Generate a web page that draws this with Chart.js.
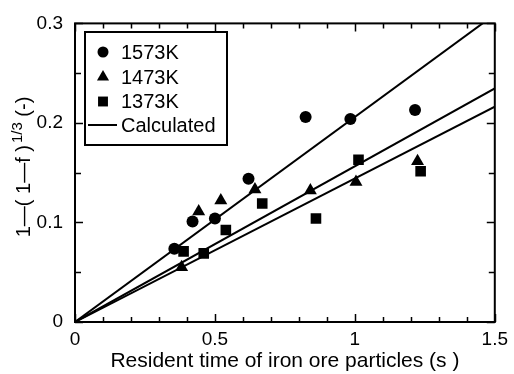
<!DOCTYPE html>
<html>
<head>
<meta charset="utf-8">
<script src="https://cdn.jsdelivr.net/npm/chart.js@4/dist/chart.umd.min.js"></script>
<style>
  html, body { margin: 0; padding: 0; background: #fff; }
  canvas { display: block; }
</style>
</head>
<body>
<canvas id="grafico" width="514" height="374"></canvas>
<script>
// ejes
const xTickVals = [0, 0.5, 1, 1.5];
const xTickLabels = ['0', '0.5', '1', '1.5'];
const yTickVals = [0, 0.1, 0.2, 0.3];
const yTickLabels = ['0', '0.1', '0.2', '0.3'];

const x1573 = [0.355, 0.42, 0.50, 0.62, 0.824, 0.984, 1.215];
const y1573 = [0.0735, 0.101, 0.104, 0.144, 0.206, 0.204, 0.213];
const x1473 = [0.381, 0.442, 0.521, 0.643, 0.841, 1.004, 1.224];
const y1473 = [0.055, 0.111, 0.122, 0.133, 0.132, 0.1406, 0.1615];
const x1373 = [0.388, 0.46, 0.539, 0.669, 0.861, 1.013, 1.235];
const y1373 = [0.071, 0.069, 0.0924, 0.119, 0.104, 0.163, 0.1515];

// rectas calculadas
const calcX = [0, 1.5];
const calc1573 = [0, 0.309];
const calc1473 = [0, 0.2346];
const calc1373 = [0, 0.2164];

const FONT = '"Liberation Sans", Arial, sans-serif';

function pares(xs, ys) {
  return xs.map((x, i) => ({ x: x, y: ys[i] }));
}

function serie(label, xs, ys, estilo, radio) {
  return {
    label, data: pares(xs, ys), showLine: false,
    pointStyle: estilo, pointRadius: radio, pointHoverRadius: radio,
    backgroundColor: '#000', borderColor: '#000', borderWidth: 0
  };
}

function recta(label, ys) {
  return {
    label, data: pares(calcX, ys), showLine: true,
    borderColor: '#000', borderWidth: 2, pointRadius: 0, fill: false
  };
}

const marcasYTitulo = {
  id: 'marcasYTitulo',
  afterDraw(chart) {
    const ctx = chart.ctx;
    const ca = chart.chartArea;
    const sx = chart.scales.x, sy = chart.scales.y;
    ctx.save();
    ctx.strokeStyle = '#000';
    ctx.lineWidth = 2;
    ctx.strokeRect(ca.left, ca.top, ca.right - ca.left, ca.bottom - ca.top);

    ctx.lineWidth = 1.5;
    ctx.beginPath();
    for (let i = 0; i <= 15; i++) {
      const px = Math.round(sx.getPixelForValue(i / 10)) + 0.5;
      const l = i % 5 === 0 ? 8 : 5;
      ctx.moveTo(px, ca.bottom); ctx.lineTo(px, ca.bottom - l);
      ctx.moveTo(px, ca.top); ctx.lineTo(px, ca.top + l);
    }
    for (let i = 0; i <= 6; i++) {
      const py = Math.round(sy.getPixelForValue(i * 0.05)) + 0.5;
      const l = i % 2 === 0 ? 8 : 6;
      ctx.moveTo(ca.left, py); ctx.lineTo(ca.left + l, py);
      ctx.moveTo(ca.right, py); ctx.lineTo(ca.right - l, py);
    }
    ctx.stroke();

    // leyenda
    const bx = 85, by = 32, bw = 142, bh = 113;
    ctx.fillStyle = '#fff';
    ctx.fillRect(bx, by, bw, bh);
    ctx.lineWidth = 2;
    ctx.strokeRect(bx, by, bw, bh);
    ctx.fillStyle = '#000';
    ctx.font = '20px ' + FONT;
    ctx.textBaseline = 'middle';
    ctx.textAlign = 'left';
    const filas = [52, 77, 101.5, 125];
    for (let k = 0; k < 3; k++) {
      const ds = chart.data.datasets[k];
      Chart.helpers.drawPoint(ctx, {
        pointStyle: ds.pointStyle, radius: ds.pointRadius - 0.5, borderWidth: 0
      }, 103, filas[k]);
      ctx.fillText(ds.label, 121, filas[k] + 1);
    }
    ctx.beginPath();
    ctx.lineWidth = 2;
    ctx.moveTo(88, filas[3]); ctx.lineTo(117, filas[3]);
    ctx.stroke();
    ctx.fillText(chart.data.datasets[3].label, 121, filas[3] + 1);

    // titulo eje y
    ctx.translate(23, 167);
    ctx.rotate(-Math.PI / 2);
    const big = '20px ' + FONT, small = '15px ' + FONT;
    const p1 = '1\u2014( 1\u2014f )', p2 = '1/3', p3 = ' (-)';
    ctx.font = big; const w1 = ctx.measureText(p1).width, w3 = ctx.measureText(p3).width;
    ctx.font = small; const w2 = ctx.measureText(p2).width;
    let x0 = -(w1 + w2 + w3 + 2) / 2;
    ctx.textBaseline = 'alphabetic';
    ctx.font = big; ctx.fillText(p1, x0, 7); x0 += w1 + 2;
    ctx.font = small; ctx.fillText(p2, x0, -1); x0 += w2;
    ctx.font = big; ctx.fillText(p3, x0, 7);
    ctx.restore();
  }
};

new Chart(document.getElementById('grafico').getContext('2d'), {
  type: 'scatter',
  data: {
    datasets: [
      serie('1573K', x1573, y1573, 'circle', 6),
      serie('1473K', x1473, y1473, 'triangle', 7.5),
      serie('1373K', x1373, y1373, 'rect', 7.5),
      recta('Calculated', calc1573),
      recta('Calculated', calc1473),
      recta('Calculated', calc1373)
    ]
  },
  options: {
    responsive: false,
    animation: false,
    layout: { padding: { top: 21, right: 16, left: 0, bottom: 0 } },
    plugins: { legend: { display: false }, tooltip: { enabled: false } },
    scales: {
      x: {
        type: 'linear', min: 0, max: 1.5,
        afterBuildTicks: s => { s.ticks = xTickVals.map(v => ({ value: v })); },
        afterFit: s => { s.height = 52; },
        grid: { display: false, drawTicks: false },
        border: { display: false },
        ticks: {
          padding: 6, color: '#000', autoSkip: false, maxRotation: 0,
          font: { family: FONT, size: 19 },
          callback: (v, i) => xTickLabels[i]
        },
        title: {
          display: true, text: 'Resident time of iron ore particles (s )',
          color: '#000', font: { family: FONT, size: 21 }, padding: 0
        }
      },
      y: {
        type: 'linear', min: 0, max: 0.3,
        afterBuildTicks: s => { s.ticks = yTickVals.map(v => ({ value: v })); },
        afterFit: s => { s.width = 75; },
        grid: { display: false, drawTicks: false },
        border: { display: false },
        ticks: {
          padding: 12, color: '#000', autoSkip: false,
          font: { family: FONT, size: 19 },
          callback: (v, i) => yTickLabels[i]
        }
      }
    }
  },
  plugins: [marcasYTitulo]
});
</script>
</body>
</html>
